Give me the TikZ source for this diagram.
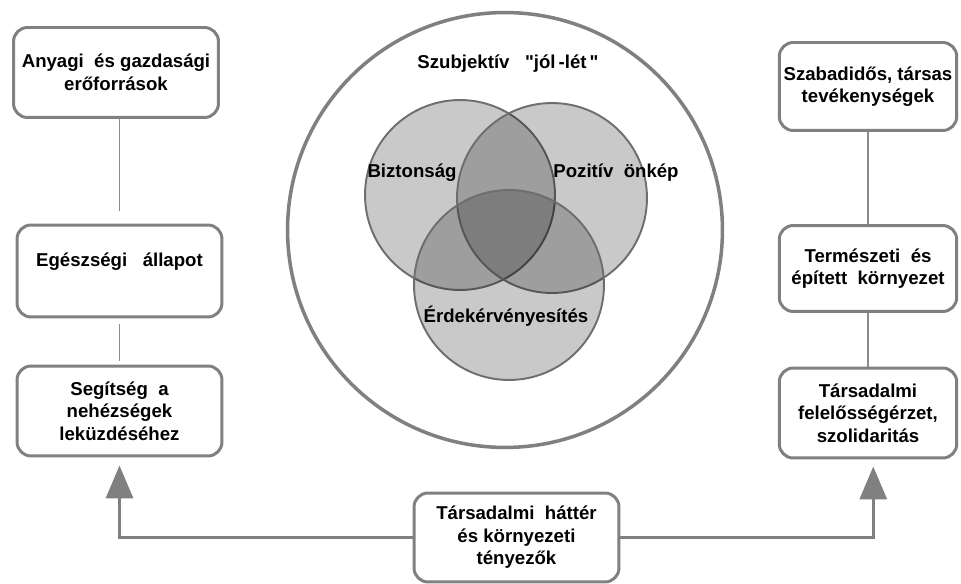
\documentclass[tikz,border=0pt]{standalone}
\usepackage{fontspec}
\setmainfont{Liberation Sans}[Ligatures=TeXOff]
\usetikzlibrary{arrows.meta}
\definecolor{framegray}{RGB}{128,128,128}
\definecolor{linegray}{RGB}{140,140,140}
\definecolor{venngray}{RGB}{110,110,110}

\begin{document}
\begin{tikzpicture}[
  x=0.02cm, y=-0.02cm,
  box/.style={
    rectangle, rounded corners=8pt,
    draw=framegray, line width=1.7pt, fill=white,
    align=center, inner sep=0pt,
    font=\bfseries\fontsize{10.6}{12.8}\selectfont
  },
  lbox/.style={box, minimum width=4.1cm, minimum height=1.8cm},
  rbox/.style={box, minimum width=3.55cm, minimum height=1.76cm},
  link/.style={draw=linegray, line width=1.1pt},
  arrow/.style={-{Triangle[length=18.7pt, width=15.3pt]}, draw=framegray, line width=2pt},
  venn/.style={circle, draw=venngray, line width=1.1pt, fill=black, fill opacity=0.21, minimum size=3.8cm},
  venntext/.style={font=\bfseries\fontsize{10.6}{12.8}\selectfont}
]
  \useasboundingbox (0,0) rectangle (961,584);

  % szubjektiv jol-let
  \node[circle, draw=framegray, line width=2pt, minimum size=8.7cm] (wellbeing) at (505,230) {};
  \node[venntext] (title) at (508,64) {Szubjektív\ \ \ "jól\,-lét\,"};
  \node[venn] (safe) at (460,195) {};
  \node[venn] (self) at (552,198) {};
  \node[venn] (voice) at (509,285) {};
  \node[venntext] (safetext) at (412,173) {Biztonság};
  \node[venntext] (selftext) at (616,173) {Pozitív\ \ önkép};
  \node[venntext] (voicetext) at (506,316) {Érdekérvényesítés};

  % left column
  \node[lbox] (res) at (116,72.5) {Anyagi\ \ és gazdasági\\erőforrások};
  \node[lbox, minimum height=1.84cm] (health) at (119.5,271) {Egészségi\ \ \ állapot\\~};
  \node[lbox] (help) at (119.5,411) {Segítség\ \ a\\nehézségek\\leküzdéséhez};

  % right column
  \node[rbox] (leisure) at (868,86.5) {Szabadidős,\ társas\\tevékenységek};
  \node[rbox, minimum height=1.72cm] (env) at (868,268.5) {Természeti\ \ és\\épített\ \ környezet};
  \node[rbox, minimum height=1.8cm] (solid) at (868,413) {Társadalmi\\felelősségérzet,\\szolidaritás};

  % bottom
  \node[box, minimum width=4.1cm, minimum height=1.78cm] (bg) at (516.5,537.5) {Társadalmi\ \ háttér\\és környezeti\\tényezők};

  \draw[link, shorten >=0.26cm] (health.north |- res.south) -- (health.north);
  \draw[link, shorten <=0.12cm, shorten >=0.08cm] (health.south) -- (help.north);
  \draw[link] (leisure.south) -- (env.north);
  \draw[link] (env.south) -- (solid.north);

  \draw[arrow, shorten >=0.16cm] (bg.west) -| (help.south);
  \draw[arrow, shorten >=0.14cm] (bg.east) -| ([xshift=3]solid.south);
\end{tikzpicture}
\end{document}
